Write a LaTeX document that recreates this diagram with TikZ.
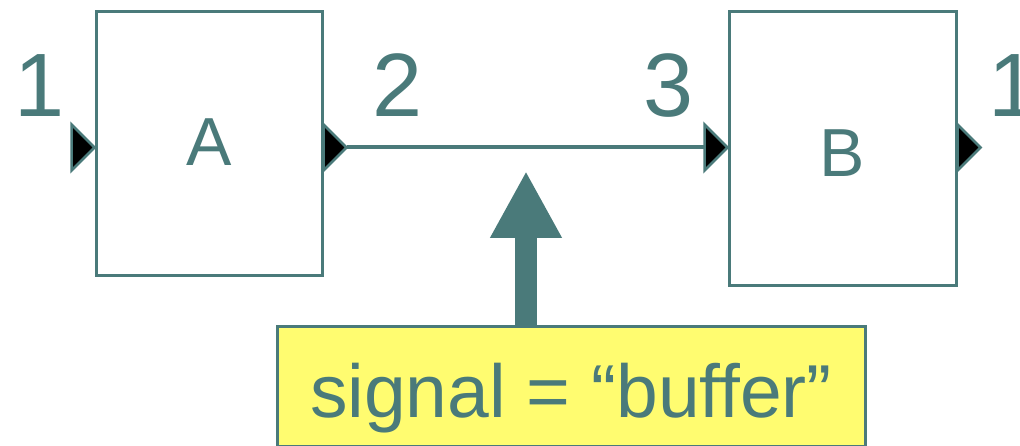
\documentclass[tikz,border=0pt]{standalone}
\usepackage{fontspec}
\setmainfont{Liberation Sans}
\usetikzlibrary{arrows.meta,calc}
\definecolor{tealc}{RGB}{74,122,122}
\definecolor{yell}{RGB}{255,252,112}
\tikzset{
  blockbox/.style={draw=tealc, line width=3pt, fill=white, rectangle, inner sep=0pt},
  port/.style={fill=black, draw=tealc, line width=2.5pt, line join=miter},
  wire/.style={draw=tealc, line width=4pt},
  numlbl/.style={text=tealc, inner sep=0pt, anchor=base, font=\fontsize{90}{90}\selectfont},
  sigbox/.style={draw=tealc, line width=3pt, fill=yell, rectangle, inner sep=0pt,
    text=tealc, font=\fontsize{75}{75}\selectfont, minimum width=588pt, minimum height=119pt,
    text height=61pt, text depth=0pt},
  bigarrow/.style={draw=tealc, line width=22pt, -{Triangle[width=67pt,length=67pt]}, fill=tealc}
}
\newcommand\porttri[1]{\filldraw[port] (#1) -- ++(-23,-23) -- ++(0,46) -- cycle;}
\begin{document}
\begin{tikzpicture}[x=1pt,y=-1pt]
\useasboundingbox (0,0) rectangle (1020,446);
% blocks
\node[blockbox, minimum width=226pt, minimum height=264pt, text=tealc,
      font=\fontsize{68}{68}\selectfont, text height=49pt, text depth=5pt] (A) at (209,144) {A};
\node[blockbox, minimum width=227pt, minimum height=274pt, text=tealc,
      font=\fontsize{68}{68}\selectfont, text height=56pt, text depth=0pt] (B) at (842.5,149) {B};
% port tips
\coordinate (Ain) at (A.west |- 0,147.5);
\coordinate (Aout) at ($(A.east |- 0,147.5)+(23,0)$);
\coordinate (Bin) at (B.west |- 0,147.5);
\coordinate (Binbase) at ($(Bin)+(-23,0)$);
\coordinate (Bout) at ($(B.east |- 0,147.5)+(23,0)$);
% connector
\draw[wire] (Aout) -- (Binbase);
% ports
\porttri{Ain}
\porttri{Aout}
\porttri{Bin}
\porttri{Bout}
% labels
\node[numlbl] (l1) at (40,117) {1};
\node[numlbl] (l2) at (398,117) {2};
\node[numlbl] (l3) at (669,117) {3};
\node[numlbl] (l4) at (1014,117) {1};
% signal box
\node[sigbox] (sig) at (571,386.5) {signal = “buffer”};
\coordinate (tip) at (526,171);
\draw[bigarrow] (sig.north -| tip) -- (tip);
\end{tikzpicture}
\end{document}
